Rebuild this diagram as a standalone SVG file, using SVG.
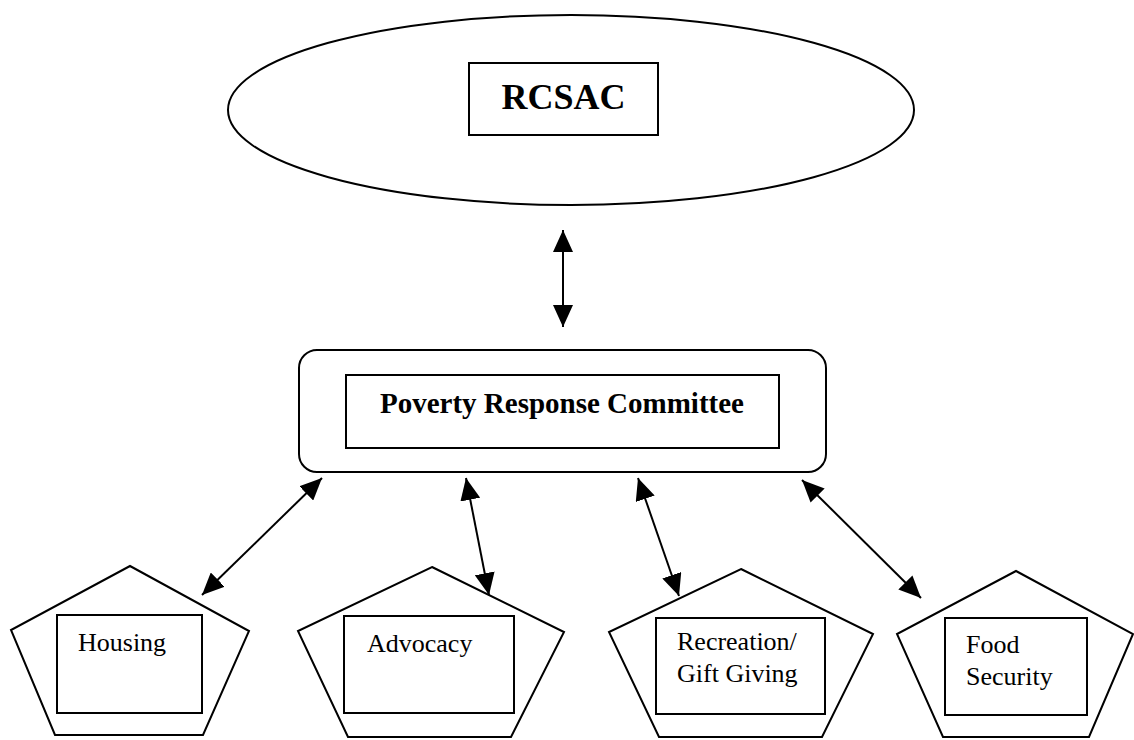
<svg xmlns="http://www.w3.org/2000/svg" width="1134" height="740" viewBox="0 0 1134 740">
<defs>
<style>
.shape{fill:#fff;stroke:#000;stroke-width:2}
.box{fill:none;stroke:#000;stroke-width:2}
.conn{stroke:#000;stroke-width:2;fill:none;marker-start:url(#ah);marker-end:url(#ah)}
.b{font-family:"Liberation Serif","Times New Roman",serif;font-weight:bold;fill:#000}
.t{font-family:"Liberation Serif","Times New Roman",serif;font-size:26px;fill:#000}
</style>
<marker id="ah" viewBox="0 0 22 20" refX="22" refY="10" markerWidth="22" markerHeight="20" markerUnits="userSpaceOnUse" orient="auto-start-reverse">
<path d="M0,0 L22,10 L0,20 z" fill="#000"/>
</marker>
</defs>
<rect width="1134" height="740" fill="#fff"/>
<g id="rcsac">
<ellipse class="shape" cx="571" cy="110" rx="343" ry="95"/>
<rect class="box" x="469" y="63" width="189" height="72"/>
<text class="b" x="563.5" y="109" font-size="36" text-anchor="middle">RCSAC</text>
</g>
<g id="prc">
<rect class="shape" x="299" y="350" width="527" height="122" rx="18"/>
<rect class="box" x="346" y="375" width="433" height="73"/>
<text class="b" x="562" y="413" font-size="29" text-anchor="middle">Poverty Response Committee</text>
</g>
<g id="housing">
<polygon class="shape" points="130,566 249,631 203,735 55,735 11,630"/>
<rect class="box" x="57" y="615" width="145" height="98"/>
<text class="t" x="78" y="651">Housing</text>
</g>
<g id="advocacy">
<polygon class="shape" points="432,567 564,632 511,737 348,737 298,631"/>
<rect class="box" x="344" y="616" width="170" height="97"/>
<text class="t" x="367" y="652">Advocacy</text>
</g>
<g id="recreation">
<polygon class="shape" points="741,569 873,634 822,737 659,737 609,632"/>
<rect class="box" x="656" y="618" width="169" height="96"/>
<text class="t" x="677" y="650">Recreation/</text>
<text class="t" x="677" y="682">Gift Giving</text>
</g>
<g id="food">
<polygon class="shape" points="1016,571 1133,634 1089,737 943,737 897,634"/>
<rect class="box" x="945" y="618" width="142" height="97"/>
<text class="t" x="966" y="653">Food</text>
<text class="t" x="966" y="685">Security</text>
</g>
<g id="connectors">
<line class="conn" x1="563" y1="230" x2="563" y2="327"/>
<line class="conn" x1="322" y1="478" x2="202" y2="595"/>
<line class="conn" x1="466" y1="478" x2="489" y2="595"/>
<line class="conn" x1="638" y1="478" x2="679" y2="596"/>
<line class="conn" x1="802" y1="480" x2="921" y2="598"/>
</g>
</svg>
